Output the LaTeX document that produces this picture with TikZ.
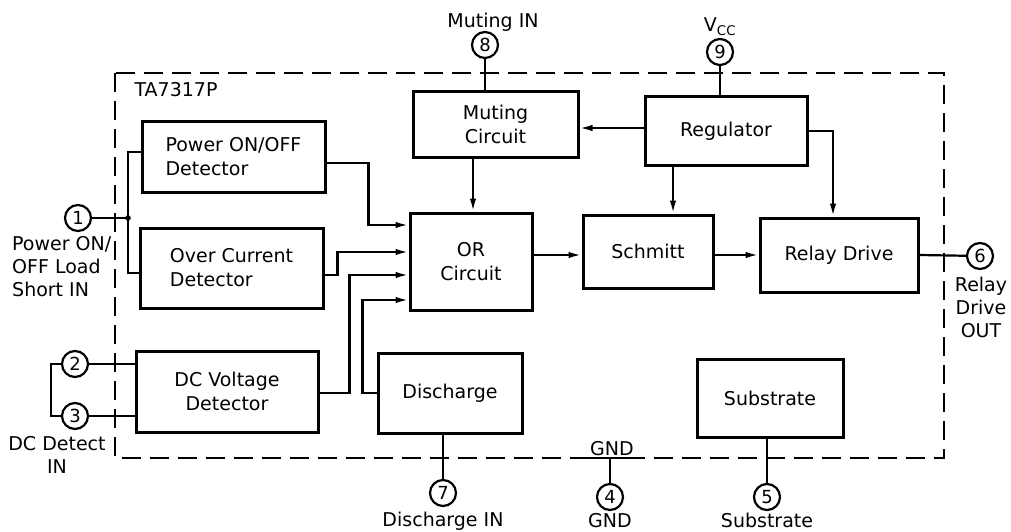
\documentclass[tikz,border=0pt]{standalone}
\usepackage{fontspec}
\setmainfont{DejaVu Sans}
\usetikzlibrary{arrows.meta}

\begin{document}
\begin{tikzpicture}[x=1pt,y=-1pt,font=\fontsize{19}{24}\selectfont,
    blk/.style={draw,line width=3pt,align=center,inner sep=2pt},
    pin/.style={draw,circle,line width=2.2pt,minimum size=26pt,inner sep=0pt,font=\fontsize{18}{20}\selectfont},
    wire/.style={line width=2.2pt},
    arr/.style={wire,-{Latex[length=13pt,width=6.5pt]}},
    lbl/.style={align=center,inner sep=0pt,font=\fontsize{19}{23}\selectfont}]
    \useasboundingbox (0,0) rectangle (1011,532);

    % Chip outline
    \coordinate (bNW) at (115,73);
    \coordinate (bSE) at (944,458);
    \draw[line width=2.8pt,dash pattern=on 19pt off 9pt] (bNW) rectangle (bSE);
    \node[anchor=west] (chip) at (131,90) {TA7317P};

    % Blocks
    \node[blk,minimum width=183pt,minimum height=70pt,align=left] (pwr) at (233.5,157) {Power ON/OFF\\Detector};
    \node[blk,minimum width=183pt,minimum height=80pt,align=left] (ovc) at (231.5,268) {Over Current\\Detector};
    \node[blk,minimum width=182pt,minimum height=81pt] (dcv) at (227,391.5) {DC Voltage\\Detector};
    \node[blk,minimum width=165pt,minimum height=65pt] (mute) at (495.5,124.5) {Muting\\Circuit};
    \node[blk,minimum width=162pt,minimum height=68pt] (reg) at (726,131) {Regulator};
    \node[blk,minimum width=122pt,minimum height=97pt] (orc) at (471,261.5) {OR\\Circuit};
    \node[blk,minimum width=130pt,minimum height=73pt] (sch) at (648,251.5) {Schmitt};
    \node[blk,minimum width=158pt,minimum height=74pt] (rly) at (839,255) {Relay Drive};
    \node[blk,minimum width=144pt,minimum height=80pt] (dis) at (450,393) {Discharge};
    \node[blk,minimum width=146pt,minimum height=78pt] (sub) at (770,398) {Substrate};

    % Pins
    \node[pin] (p1) at (78,218) {1};
    \node[pin] (p2) at (75,364) {2};
    \node[pin] (p3) at (75,416) {3};
    \node[pin] (p4) at (610,497) {4};
    \node[pin] (p5) at (767,497) {5};
    \node[pin] (p6) at (980,256) {6};
    \node[pin] (p7) at (443,493) {7};
    \node[pin] (p8) at (485,45) {8};
    \node[pin] (p9) at (720,52) {9};

    % Pin labels
    \node[lbl,anchor=north west,align=left] (l1) at (12,236) {Power ON/\\OFF Load\\Short IN};
    \node[lbl,anchor=north] (l23) at (57,436) {DC Detect\\IN};
    \node[lbl,anchor=north] (l6) at (981,277) {Relay\\Drive\\OUT};
    \node[lbl,anchor=base] (l7) at (443,526) {Discharge IN};
    \node[lbl,anchor=base] (l4) at (610,527) {GND};
    \node[lbl,anchor=base] (l5) at (767,527) {Substrate};
    \node[lbl,anchor=base] (l8) at (493,28) {Muting IN};
    \node[lbl,anchor=base] (l9) at (720,32) {V\textsubscript{CC}};
    \node[lbl,anchor=base] (gnd) at (612,455) {GND};

    % Inputs on the left
    \coordinate (j1) at (128,218);
    \draw[wire] (p1) -- (j1);
    \draw[wire] ([yshift=5pt]pwr.west) -| (j1) |- ([yshift=-5pt]ovc.west);
    \fill (j1) circle (2.8pt);
    \draw[wire] (p2) -- (p2 -| dcv.west);
    \draw[wire] (p3) -- (p3 -| dcv.west);
    \draw[wire] (p2.west) -- ++(-10,0) |- (p3.west);

    % Into the OR circuit
    \draw[arr] ([yshift=-6pt]pwr.east) -- ++(42,0) |- ([yshift=36.5pt]orc.west);
    \draw[arr] ([yshift=-7pt]ovc.east) -- ++(13,0) |- ([yshift=9.5pt]orc.west);
    \draw[arr] ([yshift=-1.5pt]dcv.east) -- ++(30,0) |- ([yshift=-13.5pt]orc.west);
    \draw[arr] (dis.west) -- ++(-14,0) |- ([yshift=-38.5pt]orc.west);
    \draw[arr] ([xshift=-22.5pt]mute.south) -- ([xshift=-22.5pt]mute.south |- orc.north);

    % Regulator
    \draw[wire] (p8) -- (p8 |- mute.north);
    \draw[wire] (p9) -- (p9 |- reg.north);
    \draw[arr] ([yshift=3pt]reg.west) -- ([yshift=3pt]reg.west -| mute.east);
    \draw[arr] ([xshift=-53pt]reg.south) -- ([xshift=-53pt]reg.south |- sch.north);
    \draw[arr] (reg.east) -| ([xshift=-6pt]rly.north);

    % Signal path
    \draw[arr] ([yshift=-3.5pt]sch.west -| orc.east) -- ([yshift=-3.5pt]sch.west);
    \draw[arr] (rly.west -| sch.east) -- (rly.west);
    \draw[wire] (rly.east) -- (p6);

    % Pins on the bottom
    \draw[wire] (dis.south -| p7) -- (p7);
    \draw[wire] (sub.south -| p5) -- (p5);
    \draw[wire] (p4) -- (p4 |- bSE);
    \draw[line width=2.8pt] ([xshift=-30pt]p4 |- bSE) -- ([xshift=22pt]p4 |- bSE);
\end{tikzpicture}
\end{document}
